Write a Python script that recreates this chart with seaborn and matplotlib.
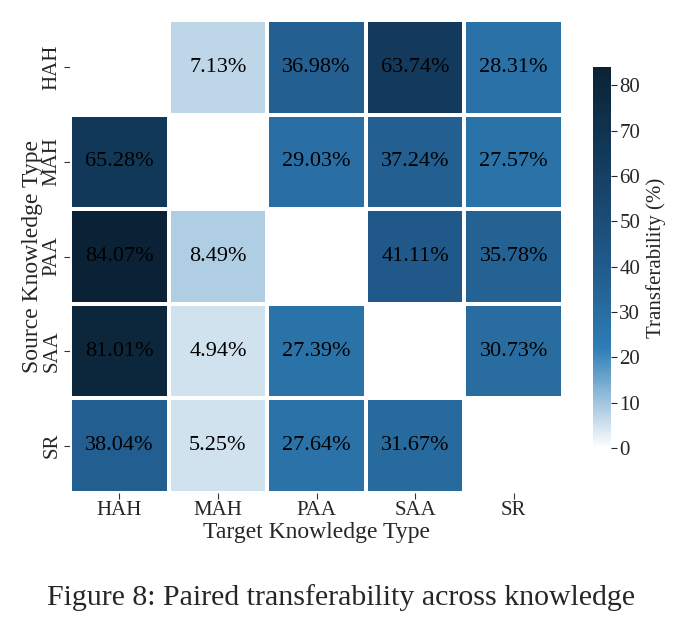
import numpy as np
import pandas as pd
import matplotlib
matplotlib.use("Agg")
import matplotlib.pyplot as plt
import seaborn as sns
from matplotlib.colors import LinearSegmentedColormap

sources = ["HAH", "MAH", "PAA", "SAA", "SR"]
targets = ["HAH", "MAH", "PAA", "SAA", "SR"]
row_hah = [np.nan, 7.13, 36.98, 63.74, 28.31]
row_mah = [65.28, np.nan, 29.03, 37.24, 27.57]
row_paa = [84.07, 8.49, np.nan, 41.11, 35.78]
row_saa = [81.01, 4.94, 27.39, np.nan, 30.73]
row_sr = [38.04, 5.25, 27.64, 31.67, np.nan]
cbar_ticks = [0, 10, 20, 30, 40, 50, 60, 70, 80]

df = pd.DataFrame([row_hah, row_mah, row_paa, row_saa, row_sr], index=sources, columns=targets)
mask = df.isna()
annot = df.map(lambda v: "" if np.isnan(v) else f"{v:.2f}%")

sns.set_style("white")
plt.rcParams["font.family"] = ["Liberation Serif", "DejaVu Serif"]

cmap = LinearSegmentedColormap.from_list(
    "tb",
    [(0.0, "#ffffff"), (0.26, "#2e7eb6"), (0.44, "#235f91"), (0.76, "#133a5c"), (1.0, "#0b2236")],
)

fig = plt.figure(figsize=(6.82, 6.29), dpi=100)
ax = fig.add_axes([70 / 682, 1 - 493 / 629, 493 / 682, 473 / 629])
cax = fig.add_axes([593 / 682, 1 - 448 / 629, 18 / 682, 381 / 629])

sns.heatmap(
    df, mask=mask, annot=annot, fmt="", cmap=cmap, vmin=0, vmax=np.nanmax(df.values),
    linewidths=1.5, linecolor="white", ax=ax, cbar_ax=cax,
    annot_kws={"fontsize": 16, "color": "black"},
    cbar_kws={"ticks": cbar_ticks},
)

ax.set_xlabel("Target Knowledge Type", fontsize=17, labelpad=1)
ax.set_ylabel("Source Knowledge Type", fontsize=17, labelpad=0)
ax.set_xticklabels(targets, fontsize=15, rotation=0)
ax.set_yticklabels(sources, fontsize=15, rotation=90, va="center")
ax.tick_params(axis="both", length=4, width=0.8, color="#333333", left=True, bottom=True, pad=2)

cax.tick_params(labelsize=15, length=4, width=0.8, pad=2)
cax.set_ylabel("Transferability (%)", fontsize=15, labelpad=4)

fig.text(0.5, 1 - 598 / 629, "Figure 8: Paired transferability across knowledge",
         ha="center", va="center", fontsize=21.5)

fig.savefig("out.png", dpi=100)
